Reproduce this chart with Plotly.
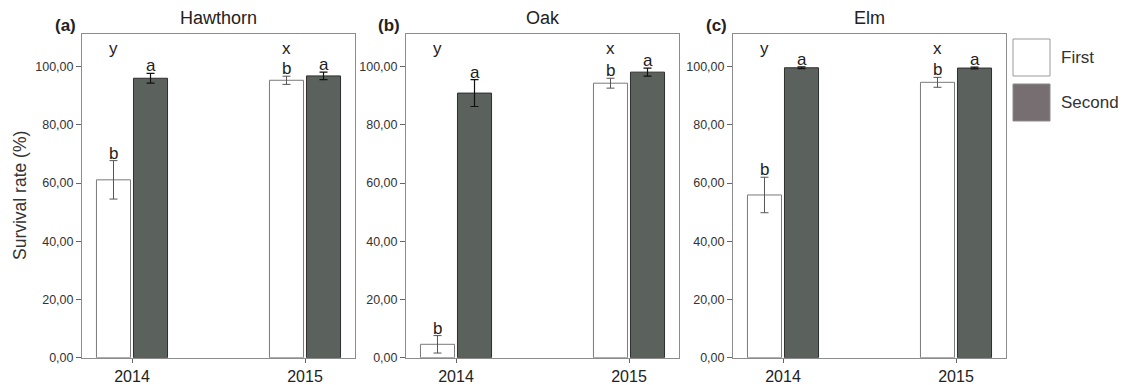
import plotly.graph_objects as go

# Survival rate (%) by planting year for first- and second-year seedlings
years = ["2014", "2015"]
species = ["Hawthorn", "Oak", "Elm"]
panel_tags = ["(a)", "(b)", "(c)"]

first_mean = {"Hawthorn": [61.1, 95.3], "Oak": [4.6, 94.3], "Elm": [55.9, 94.6]}
first_err = {"Hawthorn": [6.6, 1.4], "Oak": [3.0, 1.7], "Elm": [6.1, 1.7]}
second_mean = {"Hawthorn": [96.0, 96.8], "Oak": [90.9, 98.1], "Elm": [99.6, 99.5]}
second_err = {"Hawthorn": [1.7, 1.3], "Oak": [4.6, 1.4], "Elm": [0.3, 0.3]}

first_letters = ["b", "b"]
second_letters = ["a", "a"]
year_letters = ["y", "x"]

FONT = "Liberation Sans, Arial, sans-serif"
FRAME = "#8c8c8c"
DARK_FILL = "#5b625e"
LEGEND_SECOND = "#766e70"

W, H = 1125, 385
x_domains = [(82, 355), (406, 679), (733, 1006)]
y_top_px, y_bot_px = 34, 357.7
y_max = 111.2

fig = go.Figure()

for i, sp in enumerate(species):
    suffix = "" if i == 0 else str(i + 1)
    xa, ya = "x" + suffix, "y" + suffix
    fig.add_trace(go.Bar(
        x=years, y=first_mean[sp], name="First", xaxis=xa, yaxis=ya,
        marker=dict(color="white", line=dict(color="#7a7a7a", width=1)),
        error_y=dict(type="data", array=first_err[sp], color="#555555",
                     thickness=1, width=4),
        showlegend=False,
    ))
    fig.add_trace(go.Bar(
        x=years, y=second_mean[sp], name="Second", xaxis=xa, yaxis=ya,
        marker=dict(color=DARK_FILL, line=dict(color="#2e2e2e", width=1)),
        error_y=dict(type="data", array=second_err[sp], color="#111111",
                     thickness=1.2, width=4),
        showlegend=False,
    ))

    x0, x1 = x_domains[i]
    axis_common = dict(showline=True, linecolor=FRAME, linewidth=1, mirror=True,
                       showgrid=False, zeroline=False, ticks="outside",
                       tickcolor="#666666", automargin=False)
    fig.update_layout(**{
        "xaxis" + suffix: dict(
            domain=[x0 / W, x1 / W], anchor=ya, type="category",
            range=[-0.289, 1.289], ticklen=4,
            tickfont=dict(family=FONT, size=16, color="#222222"),
            **axis_common),
        "yaxis" + suffix: dict(
            domain=[1 - y_bot_px / H, 1 - y_top_px / H], anchor=xa,
            range=[0, y_max], tickvals=[0, 20, 40, 60, 80, 100], ticklen=5,
            ticktext=["0,00", "20,00", "40,00", "60,00", "80,00", "100,00"],
            tickfont=dict(family=FONT, size=12.5, color="#333333"),
            **axis_common),
    })

    # significance letters above each bar (category index positions)
    for j in range(len(years)):
        fig.add_annotation(x=j, y=first_mean[sp][j] + first_err[sp][j],
                           xref=xa, yref=ya, xshift=-18.5, yshift=-4,
                           text=first_letters[j], showarrow=False,
                           xanchor="center", yanchor="bottom",
                           font=dict(family=FONT, size=17, color="#222222"))
        fig.add_annotation(x=j, y=second_mean[sp][j] + second_err[sp][j],
                           xref=xa, yref=ya, xshift=18.5, yshift=-4,
                           text=second_letters[j], showarrow=False,
                           xanchor="center", yanchor="bottom",
                           font=dict(family=FONT, size=17, color="#222222"))
        fig.add_annotation(x=j, y=106.3, xref=xa, yref=ya, xshift=-18.5,
                           text=year_letters[j], showarrow=False,
                           xanchor="center", yanchor="middle",
                           font=dict(family=FONT, size=17, color="#222222"))

    # panel title and tag
    fig.add_annotation(x=(x0 + x1) / 2 / W, y=1 - 18 / H, xref="paper", yref="paper",
                       text=sp, showarrow=False, xanchor="center", yanchor="middle",
                       font=dict(family=FONT, size=18, color="#222222"))
    fig.add_annotation(x=(x0 - 17) / W, y=1 - 25 / H, xref="paper", yref="paper",
                       text="<b>" + panel_tags[i] + "</b>", showarrow=False,
                       xanchor="center", yanchor="middle",
                       font=dict(family=FONT, size=17, color="#222222"))

# y-axis title
fig.add_annotation(x=20 / W, y=1 - 196 / H, xref="paper", yref="paper",
                   text="Survival rate (%)", textangle=-90, showarrow=False,
                   xanchor="center", yanchor="middle",
                   font=dict(family=FONT, size=17.5, color="#333333"))

# legend swatches
legend_items = [("First", "white", "#9a9a9a", 39, 76),
                ("Second", LEGEND_SECOND, "#8a8a8a", 84, 121)]
for label, fill, edge, top, bot in legend_items:
    fig.add_shape(type="rect", xref="paper", yref="paper",
                  x0=1013 / W, x1=1050 / W, y0=1 - bot / H, y1=1 - top / H,
                  fillcolor=fill, line=dict(color=edge, width=1))
    fig.add_annotation(x=1059 / W, y=1 - (top + bot) / 2 / H, xref="paper", yref="paper",
                       text=label, showarrow=False, xanchor="left", yanchor="middle",
                       font=dict(family=FONT, size=17, color="#333333"))

fig.update_layout(
    width=W, height=H, autosize=False, margin=dict(l=0, r=0, t=0, b=0, pad=0),
    barmode="group", bargap=0.572, bargroupgap=0.08,
    plot_bgcolor="white", paper_bgcolor="white", showlegend=False,
)

fig.write_html("out.html")
